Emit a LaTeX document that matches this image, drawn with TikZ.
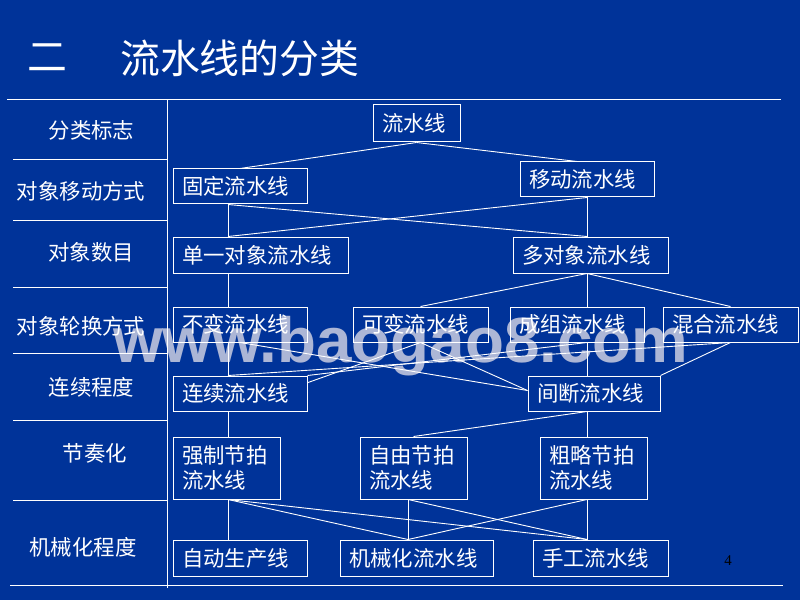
\documentclass[tikz,border=0pt]{standalone}
\usepackage{fontspec}
\newfontfamily\cjk{Noto Sans CJK SC}
\newfontfamily\wmfont{Liberation Sans}
\newfontfamily\numfont{Liberation Serif}
\usetikzlibrary{calc}
\definecolor{bgblue}{RGB}{0,51,153}
\definecolor{wmgray}{RGB}{172,182,214}
\tikzset{
  box/.style={draw=white, line width=1bp, text=white, inner xsep=9bp, inner ysep=0bp,
    align=left, font=\cjk\fontsize{21.5}{25}\selectfont},
  conn/.style={draw=white, line width=0.9bp},
  tline/.style={draw=white, line width=1bp},
  lab/.style={text=white, font=\cjk\fontsize{21.5}{25}\selectfont, inner sep=0pt}
}
\newcommand{\bx}[6]{\node[box, minimum width=#3bp, minimum height=#4bp, text width=#3bp-18bp] (#1) at (#5,#6) {#2};}
\begin{document}
\begin{tikzpicture}[x=1bp,y=-1bp]
\useasboundingbox (0,0) rectangle (800,600);
\fill[bgblue] (0,0) rectangle (800,600);
% watermark
\node[anchor=base west, inner sep=0pt, text=wmgray, font=\wmfont\bfseries\fontsize{64}{70}\selectfont] (wm) at (113,362) {www.baogao8.com};
% title
\node[text=white, font=\cjk\fontsize{40}{44}\selectfont, inner sep=0pt] (t1) at (47,58) {二};
\node[text=white, font=\cjk\fontsize{40}{44}\selectfont, inner sep=0pt, anchor=west] (t2) at (120,58) {流水线的分类};
% table lines
\draw[tline] (7,100) -- (781,100);
\draw[tline] (167,100) -- (167,588);
\foreach \yy in {160,220,287,353,420,500} {\draw[tline] (13,\yy) -- (167,\yy);}
\draw[tline] (10,585) -- (783,585);
% left labels
\node[lab] (l1) at (91.5,130) {分类标志};
\node[lab] (l2) at (81,191) {对象移动方式};
\node[lab] (l3) at (91,252) {对象数目};
\node[lab] (l4) at (81,326) {对象轮换方式};
\node[lab] (l5) at (91.5,387) {连续程度};
\node[lab] (l6) at (95,453) {节奏化};
\node[lab] (l7) at (83,547) {机械化程度};
% boxes
\bx{lsx}{流水线}{87}{37}{416.5}{123.5}
\bx{gd}{固定流水线}{134}{35}{240}{186.5}
\bx{yd}{移动流水线}{134}{35}{587}{179.5}
\bx{dy}{单一对象流水线}{175}{36}{260.5}{255}
\bx{ddx}{多对象流水线}{155}{36}{590.5}{255}
\bx{bb}{不变流水线}{134}{35}{240}{324.5}
\bx{kb}{可变流水线}{135}{35}{420.5}{324.5}
\bx{cz}{成组流水线}{134}{35}{577}{324.5}
\bx{hh}{混合流水线}{135}{35}{730.5}{324.5}
\bx{lx}{连续流水线}{134}{35}{240}{393.5}
\bx{jd}{间断流水线}{132}{35}{594}{393.5}
\bx{qz}{强制节拍\\流水线}{107}{62}{226.5}{468}
\bx{zy}{自由节拍\\流水线}{107}{62}{413.5}{468}
\bx{cl}{粗略节拍\\流水线}{107}{62}{593.5}{468}
\bx{zd}{自动生产线}{134}{36}{240}{558}
\bx{jx}{机械化流水线}{153}{36}{416.5}{558}
\bx{sg}{手工流水线}{135}{36}{600.5}{558}
% trunk x positions
\coordinate (L) at (228,0);
\coordinate (R) at (587,0);
\coordinate (M) at (408,0);
% connectors
\draw[conn] (lsx.south) -- (gd.north);
\draw[conn] (lsx.south) -- ([xshift=-10bp]yd.north);
\draw[conn] (gd.south -| L) -- (dy.north -| L);
\draw[conn] (gd.south -| L) -- (ddx.north -| R);
\draw[conn] (yd.south -| R) -- (dy.north -| L);
\draw[conn] (yd.south -| R) -- (ddx.north -| R);
\draw[conn] (dy.south -| L) -- (bb.north -| L);
\draw[conn] (ddx.south -| R) -- (kb.north);
\draw[conn] (ddx.south -| R) -- (cz.north -| R);
\draw[conn] (ddx.south -| R) -- (hh.north);
\draw[conn] (bb.south -| L) -- (lx.north -| L);
\draw[conn] (bb.south) -- ([yshift=3bp]jd.west);
\draw[conn] (kb.south) -- ([yshift=3bp]jd.west);
\draw[conn] (kb.south) -- ($(lx.north east)!0.2!(lx.south east)$);
\draw[conn] (cz.south -| R) -- (jd.north -| R);
\draw[conn] (cz.south -| R) -- (lx.north east);
\draw[conn] (hh.south) -- (lx.north -| L);
\draw[conn] (hh.south) -- (jd.north east);
\draw[conn] (lx.south -| L) -- (qz.north -| L);
\draw[conn] (jd.south -| R) -- (zy.north);
\draw[conn] (jd.south -| R) -- (cl.north -| R);
\draw[conn] (qz.south -| L) -- (zd.north -| L);
\draw[conn] (qz.south -| L) -- (jx.north -| M);
\draw[conn] (qz.south -| L) -- (sg.north -| R);
\draw[conn] (zy.south -| M) -- (jx.north -| M);
\draw[conn] (zy.south -| M) -- (sg.north -| R);
\draw[conn] (cl.south -| R) -- (jx.north -| M);
\draw[conn] (cl.south -| R) -- (sg.north -| R);
% page number
\node[text=black, font=\numfont\fontsize{15}{17}\selectfont, inner sep=0pt] (pn) at (728,561) {4};
\end{tikzpicture}
\end{document}
